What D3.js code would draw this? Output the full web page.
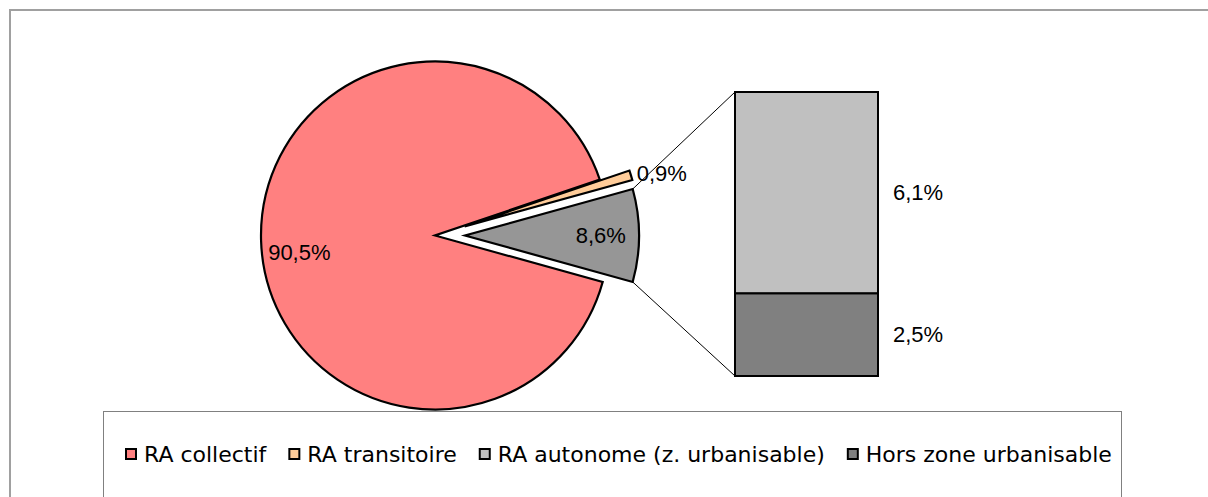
<!DOCTYPE html>
<html>
<head>
<meta charset="utf-8">
<title>Répartition RA</title>
<script src="https://cdn.jsdelivr.net/npm/d3@7"></script>
<style>
  html, body { margin: 0; padding: 0; background: #fff; }
  svg { display: block; }
  .lbl { font-family: "Liberation Sans", Arial, sans-serif; font-size: 22px; fill: #000; }
  .leg { font-family: "DejaVu Sans", Verdana, sans-serif; font-size: 22px; fill: #000; }
</style>
</head>
<body>
<svg width="1208" height="497"></svg>
<script>

// categories, in legend order
var categories = ["RA collectif", "RA transitoire", "RA autonome (z. urbanisable)", "Hors zone urbanisable"];
// values shown in the pie (the last slice is the sum of the bar)
var pieValues = [90.5, 0.9];
// values split out into the bar
var barValues = [6.1, 2.5];
var colors = ["#ff8080", "#ffcc99", "#c0c0c0", "#808080"];
var otherColor = "#969696";

var fr = d3.formatLocale({decimal: ",", thousands: " ", grouping: [3], currency: ["", " €"]});
var pct = function(v) { return fr.format(".1f")(v) + "%"; };

var svg = d3.select("svg");

// outer frame (only top and left edges visible)
svg.append("path")
    .attr("d", "M10,497V10H1208")
    .attr("fill", "none")
    .attr("stroke", "#a0a0a0")
    .attr("stroke-width", 2);

var cx = 435, cy = 235.5, r = 174;
var otherTotal = d3.sum(barValues);
var slices = pieValues.concat([otherTotal]);
var explode = [0, 31, 30];
var sliceColors = [colors[0], colors[1], otherColor];

var total = d3.sum(slices);
var a0 = Math.PI / 2 + (otherTotal / total) * Math.PI;
var pie = d3.pie().sort(null).startAngle(a0).endAngle(a0 + 2 * Math.PI);
var arcs = pie(slices);
var arc = d3.arc().innerRadius(0).outerRadius(r);

function offset(d, i) {
  var m = (d.startAngle + d.endAngle) / 2;
  return [explode[i] * Math.sin(m), -explode[i] * Math.cos(m)];
}

var g = svg.append("g").attr("transform", "translate(" + cx + "," + cy + ")");

g.selectAll("path.slice")
    .data(arcs)
  .enter().append("path")
    .attr("class", "slice")
    .attr("transform", function(d, i) { var o = offset(d, i); return "translate(" + o[0] + "," + o[1] + ")"; })
    .attr("d", arc)
    .attr("fill", function(d, i) { return sliceColors[i]; })
    .attr("stroke", "#000")
    .attr("stroke-width", 2.2)
    .attr("stroke-linejoin", "miter");

// labels
var labelArc = d3.arc().innerRadius(r * 0.78).outerRadius(r * 0.78);
arcs.forEach(function(d, i) {
  var o = offset(d, i);
  var txt = g.append("text").attr("class", "lbl").text(pct(d.data));
  if (i === 1) {
    // thin slice: label outside
    var m = (d.startAngle + d.endAngle) / 2;
    txt.attr("x", o[0] + (r + 6) * Math.sin(m))
       .attr("y", o[1] - (r + 6) * Math.cos(m))
       .attr("dy", "0.35em")
       .attr("text-anchor", "start");
  } else {
    var c = labelArc.centroid(d);
    txt.attr("x", o[0] + c[0]).attr("y", o[1] + c[1] + (i === 0 ? 13 : 0))
       .attr("dy", "0.35em")
       .attr("text-anchor", "middle");
  }
});

// bar of the split values
var barX = 735, barW = 143;
var y = d3.scaleLinear().domain([0, otherTotal]).range([376, 92]);
var stacked = [];
var acc = 0;
barValues.slice().reverse().forEach(function(v) { stacked.push([acc, acc + v, v]); acc += v; });
stacked.reverse();

svg.selectAll("rect.bar")
    .data(stacked)
  .enter().append("rect")
    .attr("class", "bar")
    .attr("x", barX)
    .attr("y", function(d) { return y(d[1]); })
    .attr("width", barW)
    .attr("height", function(d) { return y(d[0]) - y(d[1]); })
    .attr("fill", function(d, i) { return colors[2 + i]; })
    .attr("stroke", "#000")
    .attr("stroke-width", 2);

svg.selectAll("text.barlbl")
    .data(stacked)
  .enter().append("text")
    .attr("class", "lbl barlbl")
    .attr("x", barX + barW + 15)
    .attr("y", function(d) { return (y(d[0]) + y(d[1])) / 2; })
    .attr("dy", "0.35em")
    .text(function(d) { return pct(d[2]); });

// connector lines from the exploded slice to the bar
var od = arcs[2], oo = offset(od, 2);
var p1 = [cx + oo[0] + r * Math.sin(od.startAngle), cy + oo[1] - r * Math.cos(od.startAngle)];
var p2 = [cx + oo[0] + r * Math.sin(od.endAngle), cy + oo[1] - r * Math.cos(od.endAngle)];
svg.append("line").attr("x1", p1[0]).attr("y1", p1[1]).attr("x2", barX).attr("y2", y(otherTotal))
    .attr("stroke", "#000").attr("stroke-width", 1);
svg.append("line").attr("x1", p2[0]).attr("y1", p2[1]).attr("x2", barX).attr("y2", y(0))
    .attr("stroke", "#000").attr("stroke-width", 1);

// legend
svg.append("rect")
    .attr("x", 103.5).attr("y", 411.5)
    .attr("width", 1018).attr("height", 120)
    .attr("fill", "#fff")
    .attr("stroke", "#808080")
    .attr("stroke-width", 1);

var lx = 126, ly = 454;
categories.forEach(function(c, i) {
  svg.append("rect")
      .attr("x", lx).attr("y", ly - 5)
      .attr("width", 10).attr("height", 10)
      .attr("fill", colors[i])
      .attr("stroke", "#000")
      .attr("stroke-width", 2);
  var t = svg.append("text")
      .attr("class", "leg")
      .attr("x", lx + 18)
      .attr("y", ly)
      .attr("dy", "0.38em")
      .text(c);
  lx += 18 + t.node().getComputedTextLength() + 23;
});

</script>
</body>
</html>
